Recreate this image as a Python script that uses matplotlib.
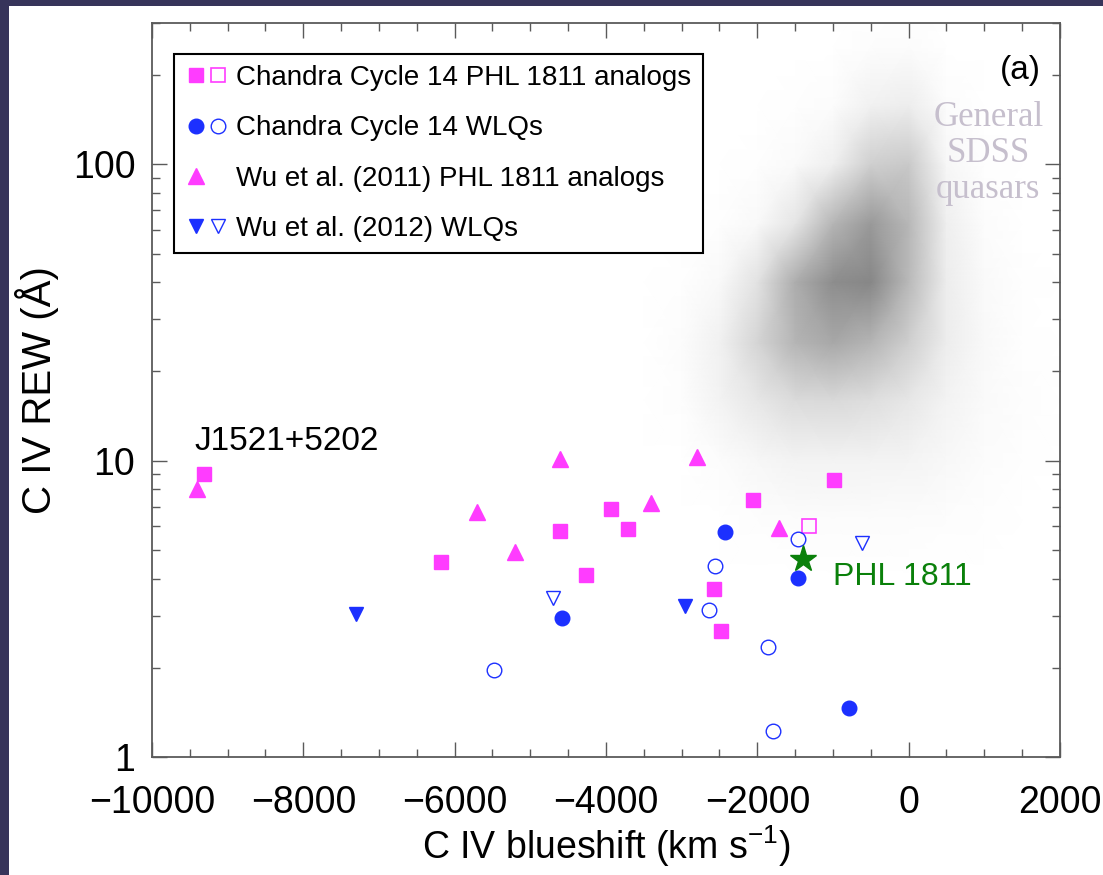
"""C IV REW vs C IV blueshift for PHL 1811 analogs and WLQs (panel a)."""

import matplotlib
matplotlib.use("Agg")
import matplotlib.pyplot as plt
import numpy as np
from matplotlib.colors import LinearSegmentedColormap
from matplotlib.legend_handler import HandlerTuple
from matplotlib.lines import Line2D
from matplotlib.patches import Rectangle
from matplotlib.ticker import FixedLocator, MultipleLocator, LogLocator, NullFormatter

plt.rcParams["font.family"] = ["Liberation Sans", "DejaVu Sans"]
plt.rcParams["mathtext.fontset"] = "custom"
plt.rcParams["mathtext.rm"] = "Liberation Sans"
plt.rcParams["mathtext.default"] = "regular"

MAGENTA = "#ff3cff"
BLUE = "#1c30ff"
GREEN = "#0a800a"

# Chandra Cycle 14 PHL 1811 analogs
sq_fill_x = [-9313, -6180, -4608, -4264, -3934, -3709, -2573, -2480, -2057, -987]
sq_fill_y = [9.04, 4.54, 5.81, 4.10, 6.89, 5.90, 3.68, 2.66, 7.39, 8.63]
sq_open_x = [-1313]
sq_open_y = [6.01]

# Chandra Cycle 14 WLQs
circ_fill_x = [-4577, -2427, -1467, -784]
circ_fill_y = [2.94, 5.73, 4.03, 1.46]
circ_open_x = [-5480, -2634, -2564, -1855, -1797, -1458]
circ_open_y = [1.97, 3.13, 4.41, 2.35, 1.22, 5.45]

# Wu et al. (2011) PHL 1811 analogs
tri_x = [-9410, -5709, -5203, -4608, -3405, -2802, -1709]
tri_y = [8.03, 6.70, 4.91, 10.1, 7.20, 10.3, 5.92]

# Wu et al. (2012) WLQs
dtri_fill_x = [-7308, -2956]
dtri_fill_y = [3.03, 3.23]
dtri_open_x = [-4705, -612]
dtri_open_y = [3.43, 5.26]

phl_x = [-1392]
phl_y = [4.67]

# general SDSS quasars: density of the point cloud
cloud_x = [-3500, -3000, -2500, -2000, -1500, -1000, -500, 0, 500, 1000, 1500, 2000]
cloud_rew = [4.0, 6.3, 10, 16, 25, 40, 63, 100, 158, 251, 400]
cloud_density = [
    [0, 0.00, 0.00, 0.00, 0.00, 0.00, 0.00, 0.00, 0.00, 0.00, 0.00, 0],
    [0, 0.00, 0.00, 0.02, 0.03, 0.03, 0.03, 0.03, 0.02, 0.01, 0.00, 0],
    [0, 0.00, 0.03, 0.07, 0.10, 0.10, 0.10, 0.09, 0.06, 0.03, 0.01, 0],
    [0, 0.02, 0.10, 0.20, 0.30, 0.32, 0.28, 0.20, 0.10, 0.04, 0.02, 0],
    [0, 0.03, 0.12, 0.35, 0.62, 0.72, 0.62, 0.40, 0.15, 0.05, 0.01, 0],
    [0, 0.01, 0.05, 0.24, 0.68, 0.95, 1.00, 0.58, 0.15, 0.04, 0.01, 0],
    [0, 0.00, 0.01, 0.05, 0.22, 0.62, 0.85, 0.60, 0.14, 0.03, 0.00, 0],
    [0, 0.00, 0.00, 0.01, 0.04, 0.14, 0.40, 0.45, 0.07, 0.01, 0.00, 0],
    [0, 0.00, 0.00, 0.00, 0.01, 0.03, 0.12, 0.15, 0.03, 0.00, 0.00, 0],
    [0, 0.00, 0.00, 0.00, 0.00, 0.00, 0.02, 0.03, 0.00, 0.00, 0.00, 0],
    [0, 0.00, 0.00, 0.00, 0.00, 0.00, 0.00, 0.00, 0.00, 0.00, 0.00, 0],
]

x_ticks = [-10000, -8000, -6000, -4000, -2000, 0, 2000]
y_ticks = [1, 10, 100]

fig = plt.figure(figsize=(11.03, 8.75), dpi=100)
fig.patch.set_facecolor("white")
# slide frame showing at the top and left edge
fig.add_artist(Rectangle((0, 1 - 6 / 875), 1, 6 / 875, transform=fig.transFigure,
                         color="#37345a", lw=0))
fig.add_artist(Rectangle((0, 0), 9 / 1103, 1, transform=fig.transFigure,
                         color="#37345a", lw=0))

ax = fig.add_axes([0.1378, 0.1349, 0.8232, 0.8389])
ax.set_yscale("log")

cmap = LinearSegmentedColormap.from_list("cloud", ["#ffffff", "#878787"])
ax.pcolormesh(cloud_x, cloud_rew, np.array(cloud_density), shading="gouraud",
              cmap=cmap, vmin=0, vmax=1, zorder=1, antialiased=False)

ms = 10.5
ax.plot(sq_fill_x, sq_fill_y, ls="none", marker="s", ms=ms, color=MAGENTA, mec=MAGENTA, zorder=3)
ax.plot(sq_open_x, sq_open_y, ls="none", marker="s", ms=ms, mfc="none", mec=MAGENTA, mew=1.2, zorder=3)
ax.plot(circ_fill_x, circ_fill_y, ls="none", marker="o", ms=ms, color=BLUE, zorder=3)
ax.plot(circ_open_x, circ_open_y, ls="none", marker="o", ms=ms, mfc="none", mec=BLUE, mew=1.0, zorder=3)
ax.plot(tri_x, tri_y, ls="none", marker="^", ms=ms + 0.5, color=MAGENTA, zorder=3)
ax.plot(dtri_fill_x, dtri_fill_y, ls="none", marker="v", ms=ms, color=BLUE, zorder=3)
ax.plot(dtri_open_x, dtri_open_y, ls="none", marker="v", ms=ms, mfc="none", mec=BLUE, mew=1.0, zorder=3)
ax.plot(phl_x, phl_y, ls="none", marker="*", ms=20, color=GREEN, zorder=4)

ax.text(-1000, 4.04, "PHL 1811", color=GREEN, fontsize=23, ha="left", va="center")
ax.text(-9432, 11.6, "J1521+5202", color="black", fontsize=24, ha="left", va="center")
ax.text(0.956, 0.935, "(a)", transform=ax.transAxes, fontsize=24, ha="center", va="center")
ax.text(0.921, 0.822, "General\nSDSS\nquasars", transform=ax.transAxes,
        fontsize=25, family="Liberation Serif", color="#c6bfcd",
        ha="center", va="center", linespacing=1.12)

ax.set_xlim(-10000, 2000)
ax.set_ylim(1, 300)
ax.xaxis.set_major_locator(FixedLocator(x_ticks))
ax.xaxis.set_minor_locator(MultipleLocator(500))
ax.yaxis.set_major_locator(FixedLocator(y_ticks))
ax.yaxis.set_minor_locator(LogLocator(base=10, subs=np.arange(2, 10)))
ax.yaxis.set_minor_formatter(NullFormatter())
ax.set_xticklabels([f"{v}".replace("-", "\u2212") for v in x_ticks])
ax.set_yticklabels([str(v) for v in y_ticks])

spine_col = "#5a5a5a"
for sp in ax.spines.values():
    sp.set_color(spine_col)
    sp.set_linewidth(1.3)
ax.tick_params(which="both", direction="in", top=True, right=True, color=spine_col,
               labelsize=27, width=1.0)
ax.tick_params(which="major", length=11)
ax.tick_params(which="minor", length=6)
ax.tick_params(axis="x", pad=20)
ax.tick_params(axis="y", pad=12)

ax.set_xlabel("C IV blueshift (km s$^{-1}$)", fontsize=27, labelpad=2)
ax.set_ylabel("C IV REW (Å)", fontsize=29, labelpad=10)

h_sq = (Line2D([], [], ls="none", marker="s", ms=ms, color=MAGENTA),
        Line2D([], [], ls="none", marker="s", ms=ms, mfc="none", mec=MAGENTA, mew=1.2))
h_ci = (Line2D([], [], ls="none", marker="o", ms=ms, color=BLUE),
        Line2D([], [], ls="none", marker="o", ms=ms, mfc="none", mec=BLUE, mew=1.0))
h_tr = (Line2D([], [], ls="none", marker="^", ms=ms + 0.5, color=MAGENTA),
        Line2D([], [], ls="none", marker=None))
h_dt = (Line2D([], [], ls="none", marker="v", ms=ms, color=BLUE),
        Line2D([], [], ls="none", marker="v", ms=ms, mfc="none", mec=BLUE, mew=1.0))
leg = ax.legend(
    [h_sq, h_ci, h_tr, h_dt],
    ["Chandra Cycle 14 PHL 1811 analogs", "Chandra Cycle 14 WLQs",
     "Wu et al. (2011) PHL 1811 analogs", "Wu et al. (2012) WLQs"],
    handler_map={tuple: HandlerTuple(ndivide=None, pad=0)},
    loc="upper left", bbox_to_anchor=(0.024, 0.958), borderaxespad=0,
    fontsize=20, handlelength=1.6, handletextpad=0.25, borderpad=0.4,
    labelspacing=0.88, fancybox=False, edgecolor="black", framealpha=1,
)
leg.get_frame().set_linewidth(1.5)
leg.set_zorder(5)

fig.savefig("out.png", dpi=100)
